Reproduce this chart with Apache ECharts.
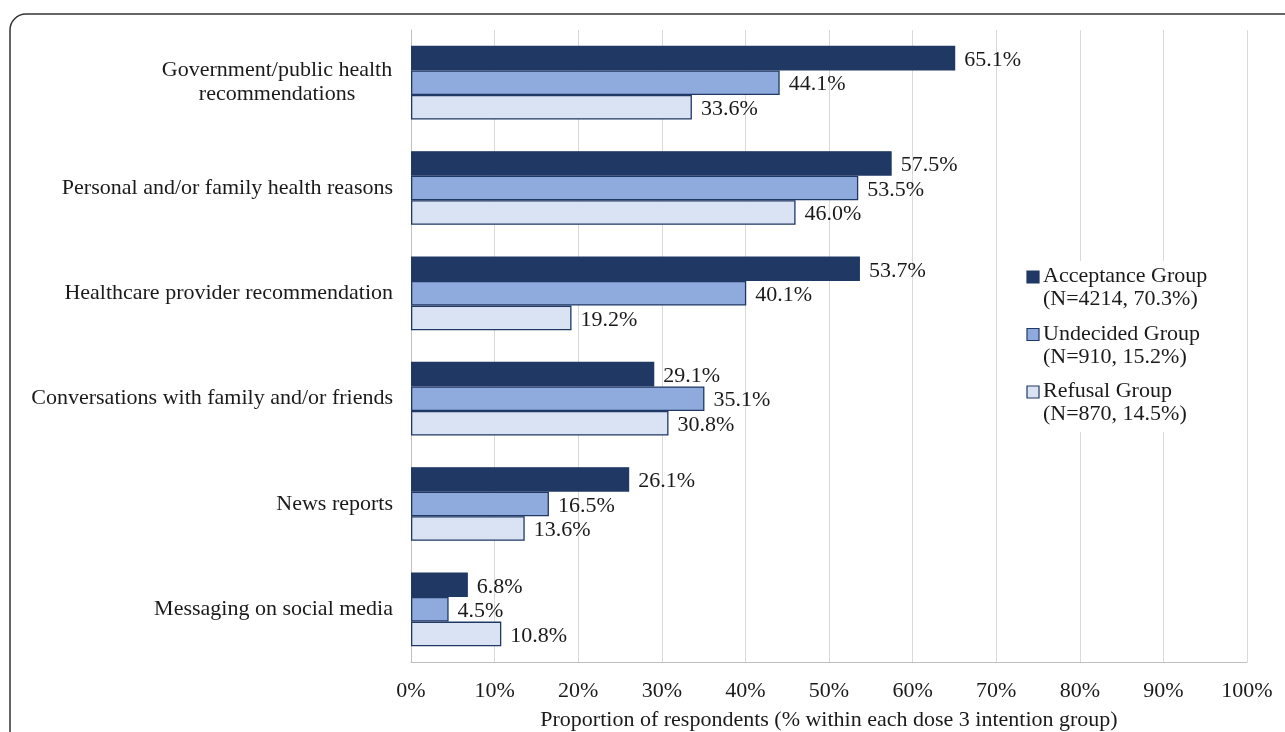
<!DOCTYPE html>
<html>
<head>
<meta charset="utf-8">
<script src="https://cdn.jsdelivr.net/npm/echarts@6/dist/echarts.min.js"></script>
<style>
  html, body { margin: 0; padding: 0; background: #fff; }
  #chart { width: 1285px; height: 732px; }
</style>
</head>
<body>
<div id="chart"></div>
<script>
// Reasons for dose 3 decision, by intention group
const categories = [
  'Government/public health\nrecommendations',
  'Personal and/or family health reasons',
  'Healthcare provider recommendation',
  'Conversations with family and/or friends',
  'News reports',
  'Messaging on social media'
];
const acceptance = [65.1, 57.5, 53.7, 29.1, 26.1, 6.8];
const undecided  = [44.1, 53.5, 40.1, 35.1, 16.5, 4.5];
const refusal    = [33.6, 46.0, 19.2, 30.8, 13.6, 10.8];

const groupNames = ['Acceptance Group', 'Undecided Group', 'Refusal Group'];
const groupNotes = ['(N=4214, 70.3%)', '(N=910, 15.2%)', '(N=870, 14.5%)'];
const xTicks = [0, 10, 20, 30, 40, 50, 60, 70, 80, 90, 100];
const axisTitle = 'Proportion of respondents (% within each dose 3 intention group)';

const FONT = '"Liberation Serif", "Times New Roman", serif';
const FS = 22;
const TEXT = '#1a1a1a';
const colors = ['#203864', '#8FAADC', '#DAE3F3'];
const edge = '#203864';

const chart = echarts.init(document.getElementById('chart'));

const seriesData = [acceptance, undecided, refusal];
const series = seriesData.map((vals, i) => ({
  name: groupNames[i],
  type: 'bar',
  data: vals,
  barGap: '0%',
  barCategoryGap: '30%',
  itemStyle: { color: colors[i], borderColor: edge, borderWidth: 1.3 },
  label: {
    show: true,
    position: 'right',
    distance: 9,
    offset: [0, 2],
    fontFamily: FONT,
    fontSize: FS,
    color: TEXT,
    formatter: p => p.value.toFixed(1) + '%'
  }
}));

// Legend box: white panel over the grid, swatch on the first text line
const legendGraphics = [{
  type: 'rect',
  shape: { x: 1018, y: 261, width: 222, height: 171 },
  style: { fill: '#ffffff', stroke: 'none' },
  z: 50
}];
groupNames.forEach((name, i) => {
  const y = 277 + i * 57.5;
  legendGraphics.push({
    type: 'rect',
    shape: { x: 1027, y: y - 6, width: 12, height: 12 },
    style: { fill: colors[i], stroke: edge, lineWidth: 1.2 },
    z: 51
  });
  legendGraphics.push({
    type: 'text',
    x: 1043, y: y - 12,
    style: {
      text: name + '\n' + groupNotes[i],
      font: FS + 'px ' + FONT,
      fill: TEXT,
      lineHeight: 23
    },
    z: 51
  });
});

chart.setOption({
  animation: false,
  backgroundColor: '#ffffff',
  grid: { left: 411, right: 38, top: 30, bottom: 70, containLabel: false, outerBoundsMode: 'none' },
  xAxis: {
    type: 'value',
    min: 0, max: 100, interval: 10,
    name: axisTitle,
    nameLocation: 'middle',
    nameGap: 47,
    nameTextStyle: { fontFamily: FONT, fontSize: FS, color: TEXT },
    axisLine: { show: true, lineStyle: { color: '#bfbfbf', width: 1 } },
    axisTick: { show: false },
    splitLine: { show: true, lineStyle: { color: '#d9d9d9', width: 1 } },
    axisLabel: {
      fontFamily: FONT, fontSize: FS, color: TEXT, margin: 18,
      formatter: v => xTicks.includes(v) ? v + '%' : ''
    }
  },
  yAxis: {
    type: 'category',
    inverse: true,
    data: categories,
    axisLine: { show: true, lineStyle: { color: '#bfbfbf', width: 1 } },
    axisTick: { show: false },
    axisLabel: {
      fontFamily: FONT, fontSize: FS, color: TEXT, margin: 18,
      lineHeight: 24,
      formatter: v => v.includes('\n')
        ? v.split('\n').map(s => '{c|' + s + '}').join('\n')
        : v,
      rich: {
        c: { width: 232, align: 'center', fontFamily: FONT, fontSize: FS, color: TEXT, lineHeight: 24 }
      }
    }
  },
  series: series,
  graphic: [
    {
      type: 'rect',
      shape: { x: 10, y: 14, width: 1320, height: 760, r: 16 },
      style: { fill: 'none', stroke: '#333333', lineWidth: 1.5 },
      z: 100
    }
  ].concat(legendGraphics)
});
</script>
</body>
</html>
